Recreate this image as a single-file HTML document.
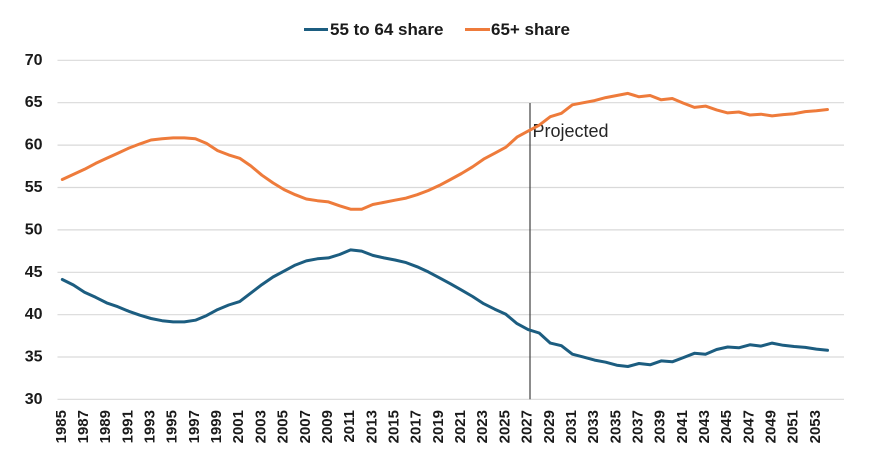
<!DOCTYPE html>
<html>
<head>
<meta charset="utf-8">
<style>
html,body{margin:0;padding:0;background:#fff;}
svg{display:block;}
text{font-family:"Liberation Sans",Arial,sans-serif;}
</style>
</head>
<body>
<svg width="877" height="470" viewBox="0 0 877 470" xmlns="http://www.w3.org/2000/svg">
<rect x="0" y="0" width="877" height="470" fill="#fff"/>
<!-- gridlines -->
<g stroke="#d9d9d9" stroke-width="1.2">
<line x1="57.5" y1="60.3" x2="844" y2="60.3"/>
<line x1="57.5" y1="102.7" x2="844" y2="102.7"/>
<line x1="57.5" y1="145.1" x2="844" y2="145.1"/>
<line x1="57.5" y1="187.5" x2="844" y2="187.5"/>
<line x1="57.5" y1="229.9" x2="844" y2="229.9"/>
<line x1="57.5" y1="272.3" x2="844" y2="272.3"/>
<line x1="57.5" y1="314.7" x2="844" y2="314.7"/>
<line x1="57.5" y1="357.0" x2="844" y2="357.0"/>
<line x1="57.5" y1="399.3" x2="844" y2="399.3"/>
</g>
<!-- y labels -->
<g font-size="16" font-weight="bold" fill="#1a1a1a" text-anchor="end" dominant-baseline="central">
<text x="42.5" y="60.3">70</text>
<text x="42.5" y="102.7">65</text>
<text x="42.5" y="145.1">60</text>
<text x="42.5" y="187.5">55</text>
<text x="42.5" y="229.9">50</text>
<text x="42.5" y="272.3">45</text>
<text x="42.5" y="314.7">40</text>
<text x="42.5" y="357.0">35</text>
<text x="42.5" y="399.3">30</text>
</g>
<!-- x labels -->
<g font-size="15" font-weight="bold" fill="#1a1a1a" text-anchor="end" dominant-baseline="central">
<text transform="translate(61.3,410) rotate(-90)">1985</text>
<text transform="translate(83.5,410) rotate(-90)">1987</text>
<text transform="translate(105.7,410) rotate(-90)">1989</text>
<text transform="translate(127.8,410) rotate(-90)">1991</text>
<text transform="translate(150.0,410) rotate(-90)">1993</text>
<text transform="translate(172.2,410) rotate(-90)">1995</text>
<text transform="translate(194.4,410) rotate(-90)">1997</text>
<text transform="translate(216.6,410) rotate(-90)">1999</text>
<text transform="translate(238.7,410) rotate(-90)">2001</text>
<text transform="translate(260.9,410) rotate(-90)">2003</text>
<text transform="translate(283.1,410) rotate(-90)">2005</text>
<text transform="translate(305.3,410) rotate(-90)">2007</text>
<text transform="translate(327.5,410) rotate(-90)">2009</text>
<text transform="translate(349.6,410) rotate(-90)">2011</text>
<text transform="translate(371.8,410) rotate(-90)">2013</text>
<text transform="translate(394.0,410) rotate(-90)">2015</text>
<text transform="translate(416.2,410) rotate(-90)">2017</text>
<text transform="translate(438.4,410) rotate(-90)">2019</text>
<text transform="translate(460.5,410) rotate(-90)">2021</text>
<text transform="translate(482.7,410) rotate(-90)">2023</text>
<text transform="translate(504.9,410) rotate(-90)">2025</text>
<text transform="translate(527.1,410) rotate(-90)">2027</text>
<text transform="translate(549.3,410) rotate(-90)">2029</text>
<text transform="translate(571.4,410) rotate(-90)">2031</text>
<text transform="translate(593.6,410) rotate(-90)">2033</text>
<text transform="translate(615.8,410) rotate(-90)">2035</text>
<text transform="translate(638.0,410) rotate(-90)">2037</text>
<text transform="translate(660.2,410) rotate(-90)">2039</text>
<text transform="translate(682.3,410) rotate(-90)">2041</text>
<text transform="translate(704.5,410) rotate(-90)">2043</text>
<text transform="translate(726.7,410) rotate(-90)">2045</text>
<text transform="translate(748.9,410) rotate(-90)">2047</text>
<text transform="translate(771.1,410) rotate(-90)">2049</text>
<text transform="translate(793.2,410) rotate(-90)">2051</text>
<text transform="translate(815.4,410) rotate(-90)">2053</text>
</g>
<!-- projected marker -->
<line x1="530" y1="103" x2="530" y2="399.3" stroke="#404040" stroke-width="1.2"/>
<text x="532.5" y="137" font-size="18" fill="#262626">Projected</text>
<!-- 65+ share -->
<polyline fill="none" stroke="#ee7b3b" stroke-width="3" stroke-linejoin="round" stroke-linecap="round" points="62.3,179.5 73.4,174.4 84.5,169.3 95.6,163.4 106.7,158.3 117.8,153.2 128.8,148.1 139.9,143.9 151.0,140.0 162.1,138.8 173.2,137.9 184.3,137.9 195.4,138.8 206.5,143.4 217.6,150.6 228.7,154.9 239.7,158.3 250.8,165.9 261.9,175.2 273.0,182.9 284.1,189.6 295.2,194.7 306.3,199.0 317.4,200.7 328.5,201.9 339.6,205.8 350.6,209.2 361.7,209.2 372.8,204.5 383.9,202.4 395.0,200.2 406.1,198.1 417.2,194.7 428.3,190.5 439.4,185.4 450.5,179.5 461.5,173.5 472.6,166.8 483.7,159.1 494.8,153.2 505.9,147.2 517.0,137.1 528.1,131.1 539.2,125.2 550.3,116.7 561.4,113.3 572.4,104.8 583.5,102.7 594.6,100.6 605.7,97.6 616.8,95.5 627.9,93.4 639.0,96.8 650.1,95.5 661.2,99.8 672.3,98.5 683.3,103.1 694.4,107.4 705.5,106.1 716.6,109.9 727.7,112.9 738.8,112.0 749.9,115.0 761.0,114.2 772.1,115.9 783.2,114.6 794.2,113.7 805.3,111.6 816.4,110.8 827.5,109.5"/>
<!-- 55 to 64 share -->
<polyline fill="none" stroke="#1c5d80" stroke-width="3" stroke-linejoin="round" stroke-linecap="round" points="62.3,279.5 73.4,285.0 84.5,292.3 95.6,297.3 106.7,302.9 117.8,306.7 128.8,311.3 139.9,315.2 151.0,318.5 162.1,320.7 173.2,321.9 184.3,321.9 195.4,320.2 206.5,315.6 217.6,309.6 228.7,305.0 239.7,301.6 250.8,293.1 261.9,284.6 273.0,277.0 284.1,271.1 295.2,265.1 306.3,260.9 317.4,258.8 328.5,257.9 339.6,254.5 350.6,249.9 361.7,251.1 372.8,255.4 383.9,257.9 395.0,260.0 406.1,262.6 417.2,266.8 428.3,271.9 439.4,277.8 450.5,283.8 461.5,290.1 472.6,296.5 483.7,303.7 494.8,309.2 505.9,314.3 517.0,323.6 528.1,329.6 539.2,333.0 550.3,343.1 561.4,345.7 572.4,354.2 583.5,357.1 594.6,360.1 605.7,362.2 616.8,365.2 627.9,366.5 639.0,363.5 650.1,364.8 661.2,360.9 672.3,361.8 683.3,357.6 694.4,353.3 705.5,354.2 716.6,349.5 727.7,347.0 738.8,347.8 749.9,344.8 761.0,346.1 772.1,343.1 783.2,345.3 794.2,346.5 805.3,347.4 816.4,349.1 827.5,350.3"/>
<!-- legend -->
<line x1="304" y1="29.5" x2="328" y2="29.5" stroke="#1c5d80" stroke-width="3"/>
<text x="330" y="29.5" font-size="17" font-weight="bold" fill="#1a1a1a" dominant-baseline="central">55 to 64 share</text>
<line x1="465" y1="29.5" x2="490" y2="29.5" stroke="#ee7b3b" stroke-width="3"/>
<text x="491" y="29.5" font-size="17" font-weight="bold" fill="#1a1a1a" dominant-baseline="central">65+ share</text>
</svg>
</body>
</html>
